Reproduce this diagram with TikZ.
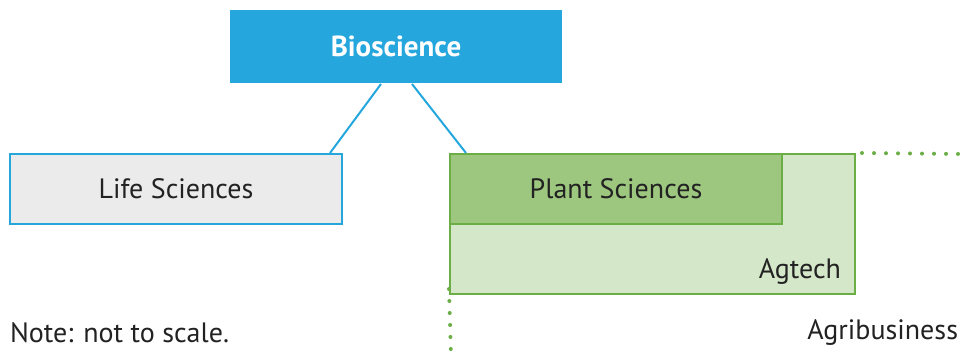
\documentclass[tikz,border=0pt]{standalone}
\usepackage{fontspec}
\setmainfont{PT Sans}
\usetikzlibrary{positioning,calc}

\definecolor{bioblue}{HTML}{25A7DE}
\definecolor{lifegray}{HTML}{EBEBEB}
\definecolor{plantgreen}{HTML}{9DC77F}
\definecolor{aggreen}{HTML}{D5E7C9}
\definecolor{edgegreen}{HTML}{6AAE45}
\definecolor{inkgray}{HTML}{222222}

\tikzset{
  box/.style={rectangle,inner sep=0,line width=2pt,text=inkgray,
    font=\fontsize{28}{32}\selectfont},
  dots/.style={edgegreen,line width=4pt,line cap=round,
    dash pattern=on 0pt off 12pt}
}

\begin{document}
\begin{tikzpicture}[x=1pt,y=-1pt]
    \useasboundingbox (0,0) rectangle (963,356);

    % Agtech area and Plant Sciences on top of it
    \node[box,draw=edgegreen,fill=aggreen,minimum width=405pt,minimum height=140pt] (ag) at (652.5,224) {};
    \node[box,draw=edgegreen,fill=plantgreen,minimum width=332pt,minimum height=70pt] (plant) at (616,189) {Plant Sciences};
    \node[box,anchor=south east] (agtech) at ([xshift=-14pt,yshift=10pt]ag.south east) {Agtech};

    % Life Sciences
    \node[box,draw=bioblue,fill=lifegray,minimum width=332pt,minimum height=70pt] (life) at (176,189) {Life Sciences};

    % Bioscience
    \node[box,draw=none,fill=bioblue,text=white,minimum width=332pt,minimum height=73pt,
      font=\fontsize{29}{33}\selectfont\bfseries] (bio) at (396,46.5) {Bioscience};

    % Links
    \draw[bioblue,line width=2pt] ([xshift=-15pt]bio.south) -- ([xshift=-13pt]life.north east);
    \draw[bioblue,line width=2pt] ([xshift=16pt]bio.south) -- ([xshift=17pt]plant.north west);

    % Agribusiness edges
    \coordinate (hA) at ([xshift=6pt]ag.north east);
    \coordinate (hB) at (963,154);
    \coordinate (vA) at ([yshift=6pt]ag.south west);
    \coordinate (vB) at (451,356);
    \draw[dots] (hA) -- (hB);
    \draw[dots] (vA) -- (vB);

    % Notes
    \node[box,anchor=west] (note) at (9,333) {Note: not to scale.};
    \node[box,anchor=east] (agri) at (959,333) {Agribusiness};
\end{tikzpicture}
\end{document}
